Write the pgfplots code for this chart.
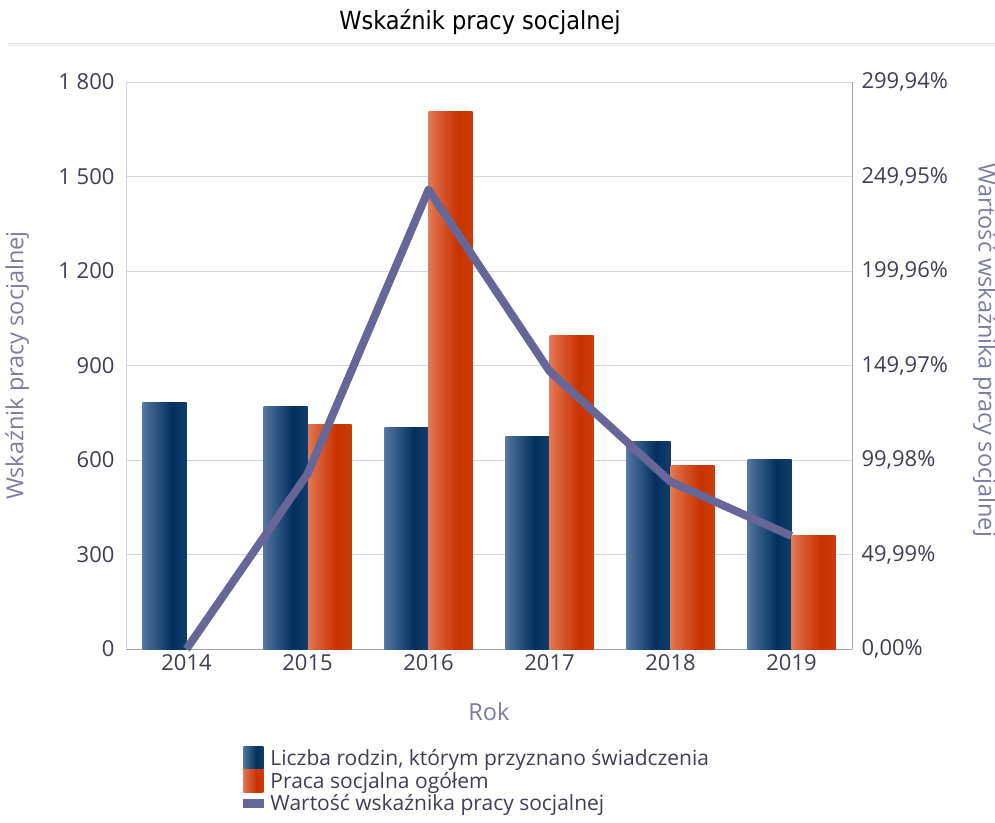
\documentclass[border=0pt]{standalone}
\usepackage{pgfplots}
\pgfplotsset{compat=1.18}
\usepackage{fontspec}
\setmainfont{Open Sans}
\newfontfamily\titlefont{DejaVu Sans Condensed}
\definecolor{tickc}{HTML}{3E3E56}
\definecolor{labc}{HTML}{7C7CA4}
\definecolor{gridc}{HTML}{D2D2E4}
\definecolor{axc}{HTML}{A0A0BE}
\definecolor{linec}{HTML}{666699}
\definecolor{bA}{HTML}{2B5580}
\definecolor{bB}{HTML}{7091B3}
\definecolor{bC}{HTML}{4A6F98}
\definecolor{bD}{HTML}{03305F}
\definecolor{bE}{HTML}{22507F}
\definecolor{oA}{HTML}{D4552C}
\definecolor{oB}{HTML}{EA9474}
\definecolor{oC}{HTML}{DC6A44}
\definecolor{oD}{HTML}{C93300}
\definecolor{oE}{HTML}{D04A1C}
\pgfdeclarehorizontalshading{barblue}{100bp}{
 color(0bp)=(bA);
 color(18bp)=(bB);
 color(28bp)=(bC);
 color(58bp)=(bD);
 color(100bp)=(bE)}
\pgfdeclarehorizontalshading{barorange}{100bp}{
 color(0bp)=(oA);
 color(18bp)=(oB);
 color(30bp)=(oC);
 color(58bp)=(oD);
 color(100bp)=(oE)}
\pgfplotstableread{
x idx
0 0
1 92.6
2 242.9
3 147.0
4 88.5
5 59.8
}\idxtab
\begin{document}
\begin{tikzpicture}[x=1pt,y=1pt]
\useasboundingbox (0,0) rectangle (995,822);
\node[font=\titlefont\fontsize{25}{28}\selectfont, text=black] at (480,800) {Wskaźnik pracy socjalnej};
\draw[color=gridc!70, line width=1.2pt] (8,778.5) -- (995,778.5);
\draw[color=gridc!50, line width=1pt] (8,776.5) -- (995,776.5);
\begin{axis}[
  at={(126pt,173pt)}, anchor=south west,
  scale only axis, width=726pt, height=567pt,
  xmin=-0.5, xmax=5.5, ymin=0, ymax=1800,
  xtick={0,1,2,3,4,5},
  xticklabels={2014,2015,2016,2017,2018,2019},
  ytick={0,300,600,900,1200,1500,1800},
  yticklabels={0,300,600,900,{1 200},{1 500},{1 800}},
  major tick length=0pt,
  tick label style={font=\fontsize{22}{24}\selectfont, text=tickc},
  xticklabel style={yshift=-2pt},
  yticklabel style={xshift=-8pt},
  ymajorgrids, grid style={color=gridc, line width=0.9pt},
  axis line style={color=axc, line width=1pt},
  axis x line*=bottom, axis y line*=left,
  y axis line style={color=gridc},
  xlabel={Rok}, ylabel={Wskaźnik pracy socjalnej},
  label style={font=\fontsize{23.5}{26}\selectfont, text=labc},
  xlabel style={at={(axis description cs:0.5,-0.111)}, anchor=center},
  ylabel style={at={(axis description cs:-0.150,0.5)}, anchor=center},
  legend cell align=left,
  legend style={at={(axis description cs:0.161,-0.171)}, anchor=north west,
    draw=none, fill=none, font=\fontsize{21}{24}\selectfont, text=tickc,
    row sep=0pt, inner sep=0pt},
  blue bar/.style={ybar, bar width=44pt, bar shift=-22pt, draw=none, shading=barblue},
  orange bar/.style={ybar, bar width=44pt, bar shift=22pt, draw=none, shading=barorange},
]
\addplot[blue bar,
  legend image code/.code={\shade[shading=barblue] (0pt,-11pt) rectangle (20pt,12pt);}]
  coordinates {(0,784)};
\addlegendentry{\hspace{5pt}Liczba rodzin, którym przyznano świadczenia}
\addplot[orange bar,
  legend image code/.code={\shade[shading=barorange] (0pt,-11pt) rectangle (20pt,12pt);}]
  coordinates {(1,714)};
\addlegendentry{\hspace{5pt}Praca socjalna ogółem}
\addlegendimage{legend image code/.code={\fill[linec] (0pt,-4pt) rectangle (20pt,4pt);}}
\addlegendentry{\hspace{5pt}Wartość wskaźnika pracy socjalnej}
\addplot[blue bar, forget plot] coordinates {(1,771)};
\addplot[blue bar, forget plot] coordinates {(2,702)};
\addplot[blue bar, forget plot] coordinates {(3,676)};
\addplot[blue bar, forget plot] coordinates {(4,660)};
\addplot[blue bar, forget plot] coordinates {(5,600)};
\addplot[orange bar, forget plot] coordinates {(2,1705)};
\addplot[orange bar, forget plot] coordinates {(3,994)};
\addplot[orange bar, forget plot] coordinates {(4,584)};
\addplot[orange bar, forget plot] coordinates {(5,359)};
\end{axis}
\begin{axis}[
  at={(126pt,173pt)}, anchor=south west,
  scale only axis, width=726pt, height=567pt,
  xmin=-0.5, xmax=5.5, ymin=0, ymax=299.94,
  axis x line=none,
  axis y line*=right,
  axis line style={color=axc, line width=1pt},
  major tick length=0pt,
  ytick={0,49.99,99.98,149.97,199.96,249.95,299.94},
  yticklabels={{0,00\%},{49,99\%},{99,98\%},{149,97\%},{199,96\%},{249,95\%},{299,94\%}},
  tick label style={font=\fontsize{22}{24}\selectfont, text=tickc},
  yticklabel style={xshift=6pt},
  ylabel={Wartość wskaźnika pracy socjalnej},
  label style={font=\fontsize{23.5}{26}\selectfont, text=labc},
  ylabel style={at={(axis description cs:1.183,0.527)}, anchor=center, rotate=180},
  clip=false,
]
\addplot[color=linec, line width=8pt, line join=round] table[x=x,y=idx] {\idxtab};
\end{axis}
\end{tikzpicture}
\end{document}
